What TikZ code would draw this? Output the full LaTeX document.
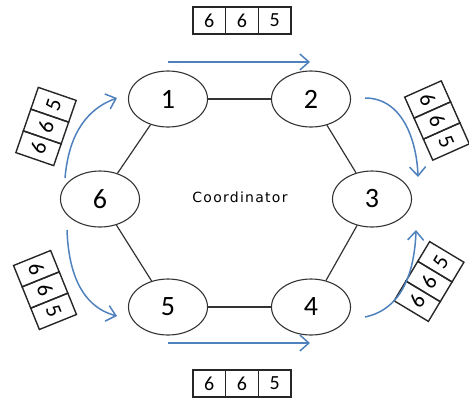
\documentclass[tikz,border=0pt]{standalone}
\usepackage{fontspec}
\setmainfont{Carlito}
\newfontfamily\coordfont[LetterSpace=9]{DejaVu Sans}
\usetikzlibrary{shapes.geometric, arrows.meta}

\definecolor{flowblue}{RGB}{79,129,189}

\tikzstyle{station} = [ellipse, draw=black!80, line width=0.55pt,
minimum width=39.5pt, minimum height=28pt, inner sep=0pt,
font=\fontsize{14}{16}\selectfont]
\tikzstyle{link} = [line width=0.6pt, draw=black!80]
\tikzstyle{flow} = [line width=0.75pt, draw=flowblue,
-{Straight Barb[length=4.5pt, width=8pt]}]
\tikzstyle{cell} = [rectangle, draw=black!85, line width=0.7pt,
minimum width=16.35pt, minimum height=13.5pt, inner sep=0pt,
font=\fontsize{10}{12}\selectfont]
\tikzstyle{tcell} = [cell, minimum width=11.5pt, minimum height=20pt,
font=\fontsize{11}{12}\selectfont]

\begin{document}
\begin{tikzpicture}[x=0.5pt, y=0.5pt]
\useasboundingbox (0,0) rectangle (469,398);

% Nodes
\node[station] (n1) at (168,299) {1};
\node[station] (n2) at (311,299) {2};
\node[station] (n3) at (372,199) {3};
\node[station] (n4) at (311,91) {4};
\node[station] (n5) at (168,91) {5};
\node[station] (n6) at (100,199) {6};
\node[font=\coordfont\fontsize{7}{8}\selectfont] (coord) at (240,201) {Coordinator};

% Ring
\draw[link] (n1) -- (n2);
\draw[link] (n2) -- (n3);
\draw[link] (n3) -- (n4);
\draw[link] (n4) -- (n5);
\draw[link] (n5) -- (n6);
\draw[link] (n6) -- (n1);

% Arrays
\begin{scope}[shift={(242,377.5)}]
\foreach \v [count=\i] in {6,6,5}
  \node[cell] (top\i) at ({(\i-2)*32.7},0) {\v};
\end{scope}
\begin{scope}[shift={(242,14.5)}]
\foreach \v [count=\i] in {6,6,5}
  \node[cell] (bot\i) at ({(\i-2)*32.7},0) {\v};
\end{scope}
\begin{scope}[shift={(46,271.5)}, rotate=71, transform shape]
\foreach \v [count=\i] in {6,6,5}
  \node[tcell] (lu\i) at ({(\i-2)*23},0) {\v};
\end{scope}
\begin{scope}[shift={(45,108)}, rotate=-68, transform shape]
\foreach \v [count=\i] in {6,6,5}
  \node[tcell] (ll\i) at ({(\i-2)*23},0) {\v};
\end{scope}
\begin{scope}[shift={(437,277.5)}, rotate=-66, transform shape]
\foreach \v [count=\i] in {6,6,5}
  \node[tcell] (ru\i) at ({(\i-2)*23},0) {\v};
\end{scope}
\begin{scope}[shift={(429,116.5)}, rotate=59, transform shape]
\foreach \v [count=\i] in {6,6,5}
  \node[tcell] (rl\i) at ({(\i-2)*23},0) {\v};
\end{scope}

% Token flow
\coordinate (ts) at (168,336);
\coordinate (te) at (310,336);
\coordinate (bs) at (168,55);
\coordinate (be) at (310,55);
\coordinate (lus) at (65,220);
\coordinate (lue) at (117,300);
\coordinate (rus) at (365,300);
\coordinate (rue) at (418,221);
\coordinate (rls) at (365,81);
\coordinate (rle) at (416,168);
\coordinate (lls) at (67,168);
\coordinate (lle) at (117,82);

\draw[flow] (ts) -- (te);
\draw[flow] (bs) -- (be);
\draw[flow] (lus) to[out=85, in=200] (lue);
\draw[flow] (rus) to[out=0, in=92] (rue);
\draw[flow] (rls) to[out=12, in=-92] (rle);
\draw[flow] (lls) to[out=-88, in=165] (lle);

\end{tikzpicture}
\end{document}
